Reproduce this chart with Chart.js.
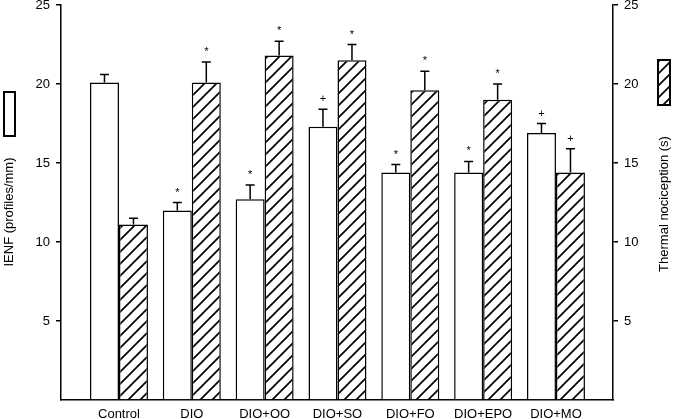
<!DOCTYPE html>
<html>
<head>
<meta charset="utf-8">
<script src="https://cdn.jsdelivr.net/npm/chart.js@4"></script>
<style>
  html, body { margin: 0; padding: 0; background: #fff; }
  #wrap { width: 674px; height: 419px; }
</style>
</head>
<body>
<div id="wrap"><canvas id="c" width="674" height="419"></canvas></div>
<script>
const groups = ['Control', 'DIO', 'DIO+OO', 'DIO+SO', 'DIO+FO', 'DIO+EPO', 'DIO+MO'];
const ienf = [20.1, 12.0, 12.7, 17.3, 14.4, 14.4, 16.9];
const ienfErr = [0.5, 0.5, 0.9, 1.1, 0.5, 0.7, 0.6];
const thermal = [11.1, 20.1, 21.8, 21.5, 19.6, 19.0, 14.4];
const thermalErr = [0.4, 1.3, 0.9, 1.0, 1.2, 1.0, 1.5];
const ienfMarks = ['', '*', '*', '+', '*', '*', '+'];
const thermalMarks = ['', '*', '*', '*', '*', '*', '+'];
const yTicks = [0, 5, 10, 15, 20, 25];

const FONT = '"Liberation Sans", Arial, sans-serif';
const canvas = document.getElementById('c');
const ctx = canvas.getContext('2d');

// diagonal hatch like the printed figure
function makeHatch() {
  const s = 12;
  const p = document.createElement('canvas');
  p.width = s; p.height = s;
  const g = p.getContext('2d');
  g.fillStyle = '#fff';
  g.fillRect(0, 0, s, s);
  g.strokeStyle = '#000';
  g.lineWidth = 1.7;
  g.beginPath();
  g.moveTo(-2, s + 2); g.lineTo(s + 2, -2);
  g.moveTo(-s / 2 - 2, s / 2 + 2); g.lineTo(s / 2 + 2, -s / 2 - 2);
  g.moveTo(s / 2 - 2, s * 1.5 + 2); g.lineTo(s * 1.5 + 2, s / 2 - 2);
  g.stroke();
  return ctx.createPattern(p, 'repeat');
}
const hatch = makeHatch();

const decor = {
  id: 'decor',
  afterDatasetsDraw(chart) {
    const c = chart.ctx;
    const sets = [
      [0, ienf, ienfErr, ienfMarks, 'y'],
      [1, thermal, thermalErr, thermalMarks, 'y1']
    ];
    sets.forEach(([di, vals, errs, marks, axis]) => {
      const meta = chart.getDatasetMeta(di);
      const scale = chart.scales[axis];
      meta.data.forEach((bar, i) => {
        const top = scale.getPixelForValue(vals[i] + errs[i]);
        c.save();
        c.strokeStyle = '#000';
        c.lineWidth = 1.5;
        c.beginPath();
        c.moveTo(bar.x, bar.y);
        c.lineTo(bar.x, top);
        c.moveTo(bar.x - 4.5, top);
        c.lineTo(bar.x + 4.5, top);
        c.stroke();
        if (marks[i]) {
          c.fillStyle = '#000';
          c.font = '11px ' + FONT;
          c.textAlign = 'center';
          c.textBaseline = 'alphabetic';
          c.fillText(marks[i], bar.x, top - 7);
        }
        c.restore();
      });
    });
  },
  afterDraw(chart) {
    const c = chart.ctx;
    c.save();
    c.fillStyle = '#000';
    c.font = '13px ' + FONT;
    c.textAlign = 'center';
    c.textBaseline = 'middle';
    c.save();
    c.translate(9, 212);
    c.rotate(-Math.PI / 2);
    c.fillText('IENF (profiles/mm)', 0, 0);
    c.restore();
    c.save();
    c.translate(664, 204);
    c.rotate(-Math.PI / 2);
    c.fillText('Thermal nociception (s)', 0, 0);
    c.restore();
    // legend keys
    c.lineWidth = 2;
    c.strokeStyle = '#000';
    c.fillStyle = '#fff';
    c.fillRect(4, 92, 11, 44);
    c.strokeRect(4, 92, 11, 44);
    c.fillStyle = hatch;
    c.fillRect(658, 60, 12, 45);
    c.strokeRect(658, 60, 12, 45);
    c.restore();
  }
};

const tickFont = { family: FONT, size: 13 };
function yAxis(pos) {
  return {
    position: pos,
    min: 0,
    max: 25,
    afterBuildTicks: s => { s.ticks = yTicks.map(v => ({ value: v })); },
    ticks: { color: '#000', font: tickFont, padding: 6, callback: v => (v === 0 ? '' : v) },
    grid: {
      drawOnChartArea: false,
      tickLength: 5,
      lineWidth: 1.5,
      color: c => (c.tick && c.tick.value === 0 ? 'rgba(0,0,0,0)' : '#000')
    },
    border: { color: '#000', width: 1.5 },
    afterFit: s => {
      s.width = 61;
      s.paddingTop = 0;
      s.paddingBottom = 0;
    }
  };
}

new Chart(ctx, {
  type: 'bar',
  data: {
    datasets: [
      {
        label: 'IENF (profiles/mm)',
        data: ienf.map((v, i) => ({ x: i, y: v })),
        backgroundColor: '#fff',
        borderColor: '#000',
        borderWidth: 1.5,
        yAxisID: 'y'
      },
      {
        label: 'Thermal nociception (s)',
        data: thermal.map((v, i) => ({ x: i, y: v })),
        backgroundColor: hatch,
        borderColor: '#000',
        borderWidth: 1.5,
        yAxisID: 'y1'
      }
    ]
  },
  options: {
    responsive: false,
    animation: false,
    layout: { padding: { top: 5, left: 0, right: 0, bottom: 0 } },
    datasets: { bar: { categoryPercentage: 0.796, barPercentage: 1 } },
    plugins: { legend: { display: false }, tooltip: { enabled: false } },
    scales: {
      x: {
        type: 'linear',
        offset: false,
        min: -0.796,
        max: 6.783,
        afterBuildTicks: s => { s.ticks = groups.map((g, i) => ({ value: i })); },
        ticks: { color: '#000', font: tickFont, padding: 7, maxRotation: 0, autoSkip: false, callback: v => groups[v] },
        grid: { display: false, drawTicks: false, offset: false },
        border: { color: '#000', width: 1.5 },
        afterFit: s => {
          s.height = 19;
          s.paddingLeft = 0;
          s.paddingRight = 0;
        }
      },
      y: yAxis('left'),
      y1: yAxis('right')
    }
  },
  plugins: [decor]
});
</script>
</body>
</html>
